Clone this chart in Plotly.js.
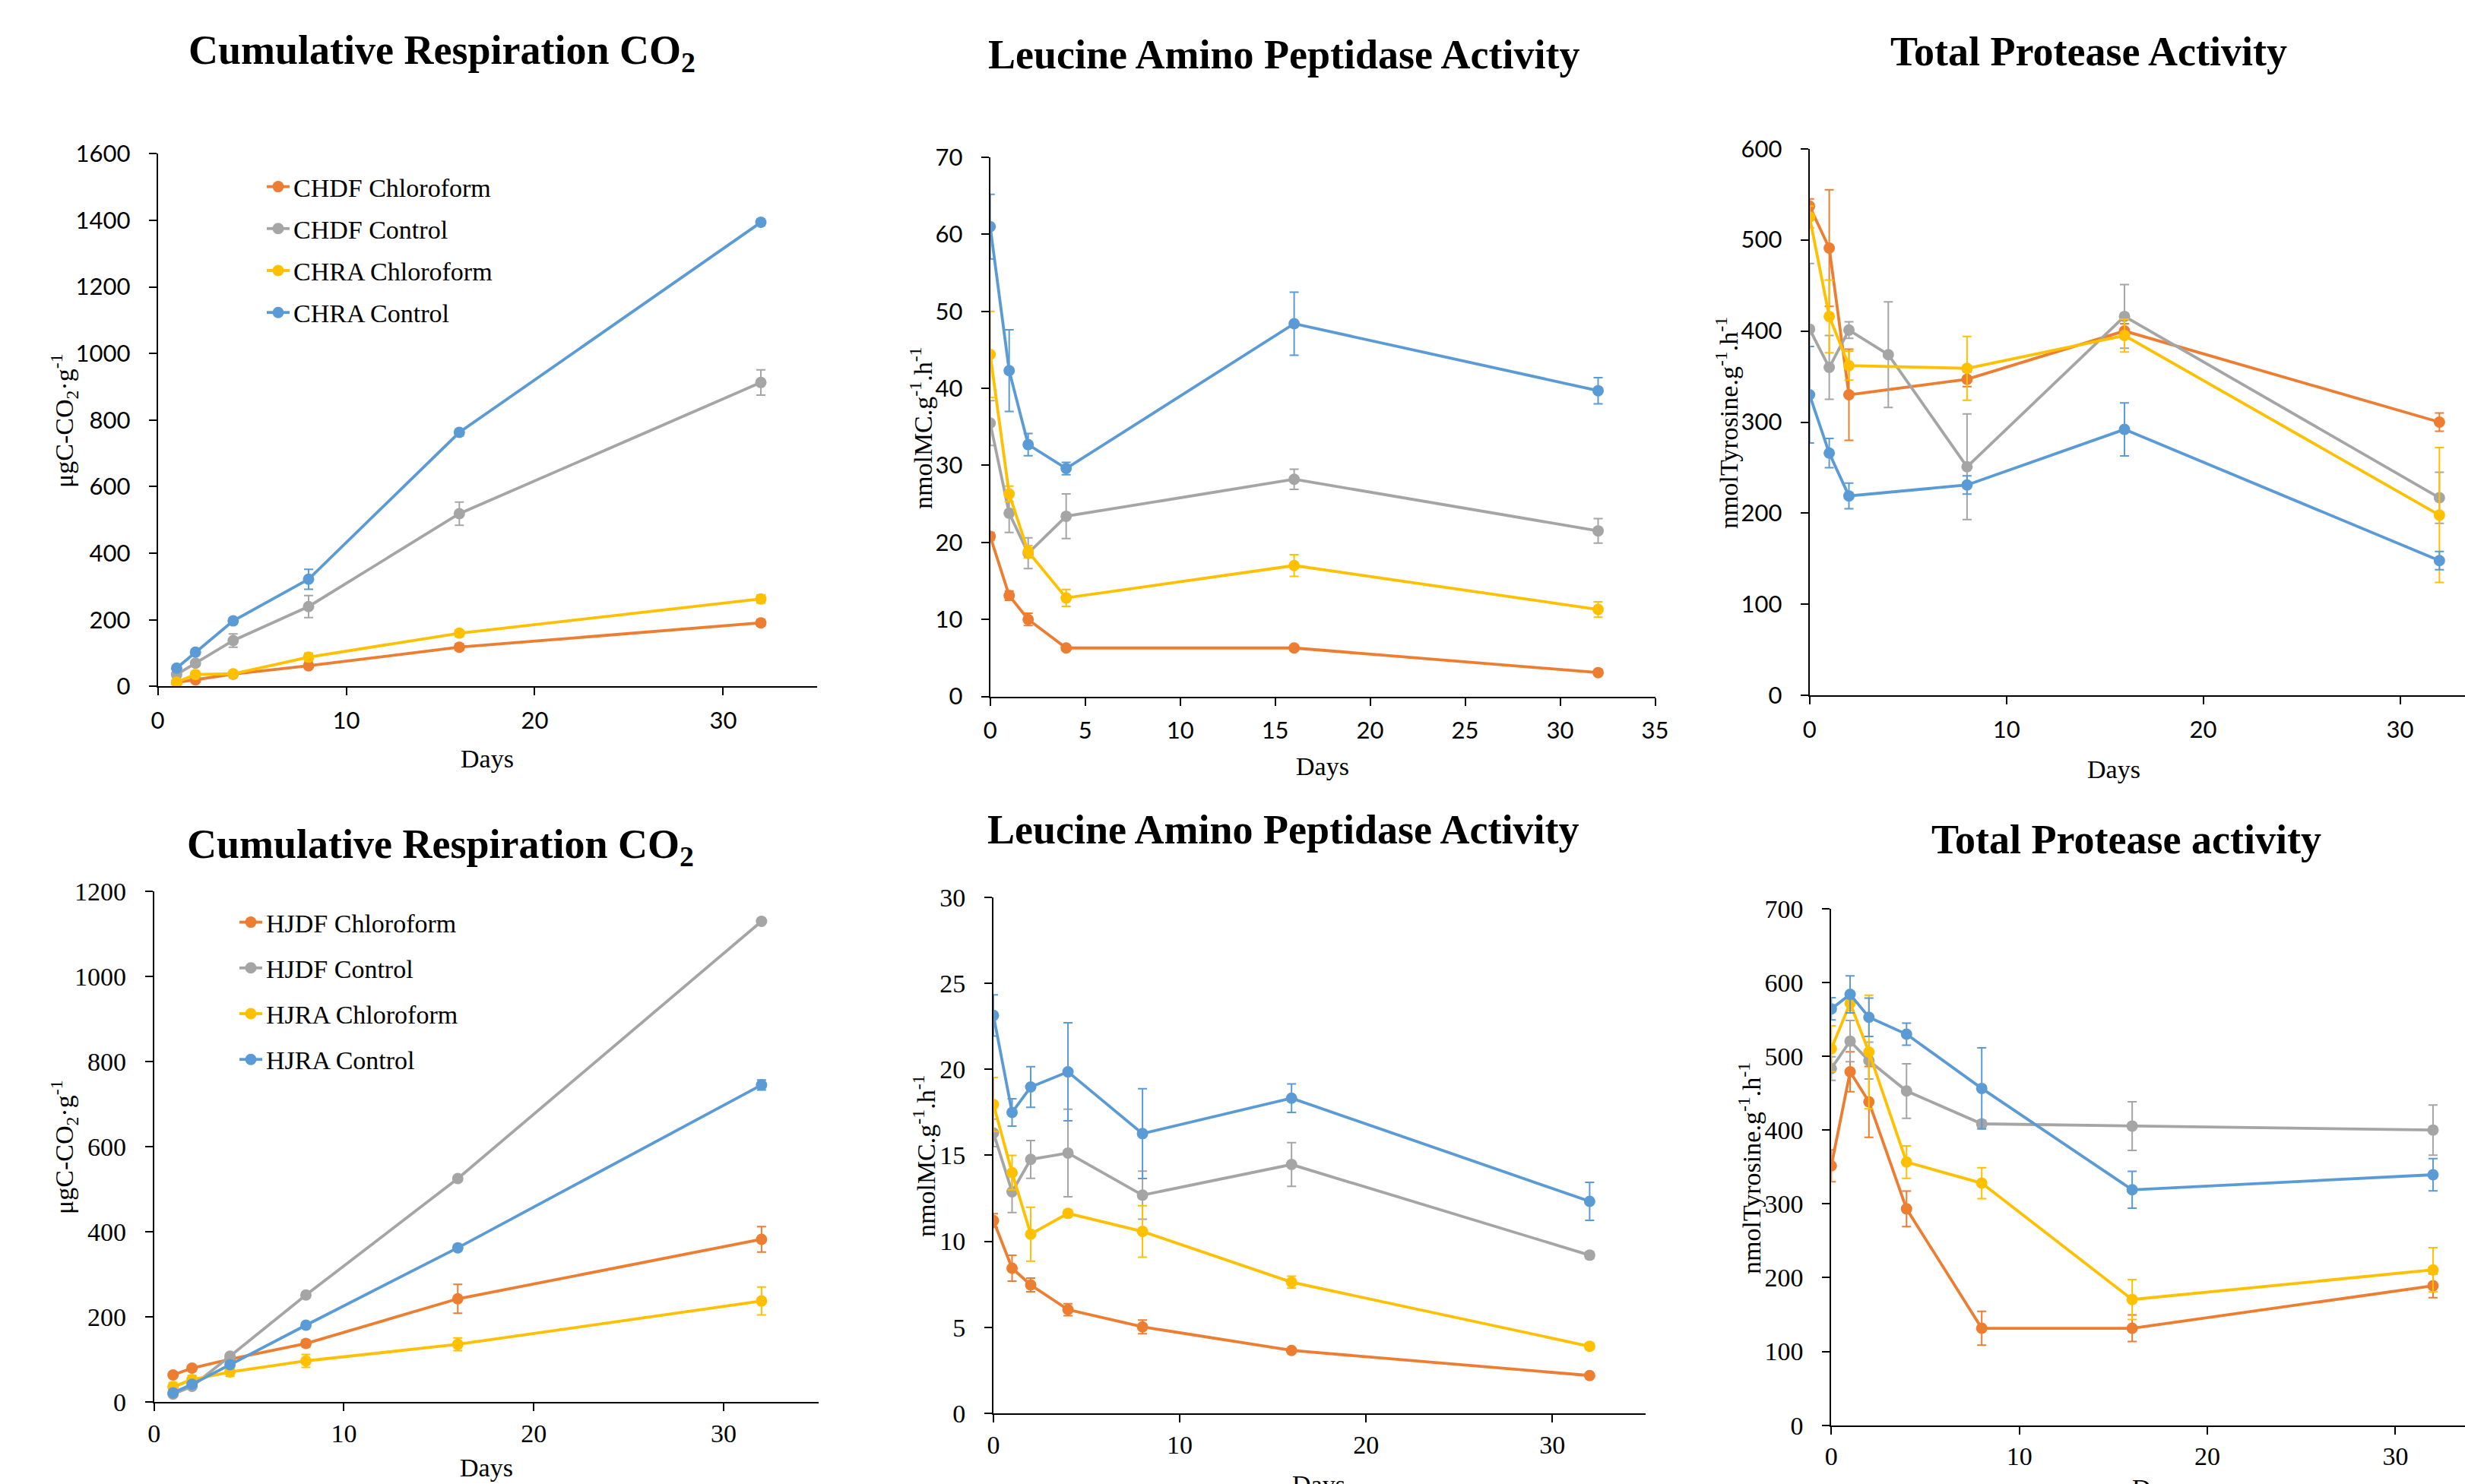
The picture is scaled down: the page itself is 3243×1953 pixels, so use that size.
<!DOCTYPE html>
<html><head><meta charset="utf-8">
<script src="https://cdn.plot.ly/plotly-3.0.1.min.js"></script>
<style>html,body{margin:0;padding:0;background:#fff;overflow:hidden}</style>
</head><body>
<div id="chart" style="width:3243px;height:1953px"></div>
<script>
// ---------- DATA ----------
// Top-left: Cumulative Respiration CO2 (CHDF / CHRA)
const daysRespC = [1, 2, 4, 8, 16, 32];
const respChdfChloroform = [12, 20, 37, 62, 118, 191];
const respChdfChloroformErr = [5, 6, 6, 8, 10, 10];
const respChdfControl = [36, 70, 138, 240, 519, 913];
const respChdfControlErr = [6, 8, 20, 33, 35, 38];
const respChraChloroform = [13, 36, 38, 88, 160, 263];
const respChraChloroformErr = [5, 6, 6, 12, 10, 12];
const respChraControl = [55, 103, 197, 322, 763, 1394];
const respChraControlErr = [6, 8, 8, 30, 10, 10];

// Top-middle: Leucine Amino Peptidase Activity (CH)
const daysLapC = [0, 1, 2, 4, 16, 32];
const lapChdfChloroform = [20.8, 13.1, 10.0, 6.3, 6.3, 3.1];
const lapChdfChloroformErr = [0.5, 0.6, 0.8, 0.3, 0.3, 0.3];
const lapChdfControl = [35.5, 23.8, 18.6, 23.4, 28.2, 21.5];
const lapChdfControlErr = [2.9, 2.5, 2.0, 2.9, 1.3, 1.6];
const lapChraChloroform = [44.4, 26.3, 18.8, 12.8, 17.0, 11.3];
const lapChraChloroformErr = [5.6, 1.0, 0.8, 1.1, 1.4, 1.0];
const lapChraControl = [61.0, 42.3, 32.7, 29.6, 48.4, 39.7];
const lapChraControlErr = [4.2, 5.3, 1.45, 0.8, 4.1, 1.7];

// Top-right: Total Protease Activity (CH)
const daysProtC = [0, 1, 2, 8, 16, 32];
const daysProtCGray = [0, 1, 2, 4, 8, 16, 32];
const protChdfChloroform = [537, 491, 330, 347, 400, 300];
const protChdfChloroformErr = [8, 64, 50, 8, 8, 10];
const protChdfControl = [402, 360, 401, 374, 251, 416, 217];
const protChdfControlErr = [72, 35, 9, 58, 58, 35, 28];
const protChraChloroform = [525, 416, 362, 359, 395, 198];
const protChraChloroformErr = [12, 40, 16, 35, 18, 74];
const protChraControl = [330, 266, 219, 231, 292, 148];
const protChraControlErr = [53, 16, 14, 10, 29, 10];

// Bottom-left: Cumulative Respiration CO2 (HJDF / HJRA)
const daysRespH = [1, 2, 4, 8, 16, 32];
const respHjdfChloroform = [63, 79, 100, 137, 242, 382];
const respHjdfChloroformErr = [6, 6, 6, 8, 34, 30];
const respHjdfControl = [18, 36, 107, 251, 525, 1130];
const respHjdfControlErr = [4, 5, 6, 6, 6, 6];
const respHjraChloroform = [35, 52, 70, 96, 135, 237];
const respHjraChloroformErr = [10, 10, 10, 15, 15, 33];
const respHjraControl = [21, 41, 87, 180, 362, 745];
const respHjraControlErr = [5, 5, 5, 6, 6, 12];

// Bottom-middle: Leucine Amino Peptidase Activity (HJ)
const daysLapH = [0, 1, 2, 4, 8, 16, 32];
const lapHjdfChloroform = [11.2, 8.43, 7.46, 6.02, 5.02, 3.65, 2.19];
const lapHjdfChloroformErr = [0.4, 0.75, 0.4, 0.35, 0.4, 0.1, 0.1];
const lapHjdfControl = [16.3, 12.87, 14.76, 15.13, 12.68, 14.46, 9.19];
const lapHjdfControlErr = [0.8, 1.2, 1.1, 2.55, 1.4, 1.27, 0.2];
const lapHjraChloroform = [17.95, 13.99, 10.41, 11.62, 10.57, 7.62, 3.89];
const lapHjraChloroformErr = [1.57, 1.0, 1.57, 0.2, 1.5, 0.35, 0.2];
const lapHjraControl = [23.13, 17.49, 18.97, 19.85, 16.26, 18.32, 12.32];
const lapHjraControlErr = [1.2, 0.8, 1.18, 2.85, 2.61, 0.83, 1.1];

// Bottom-right: Total Protease activity (HJ)
const daysProtH = [0, 1, 2, 4, 8, 16, 32];
const protHjdfChloroform = [351.6, 479, 438.3, 293.3, 131.4, 131.4, 189];
const protHjdfChloroformErr = [21.6, 27, 48, 24, 23, 18, 16];
const protHjdfControl = [483.5, 520.6, 494.2, 453, 408.5, 405.5, 400.1];
const protHjdfControlErr = [16, 28, 25, 37, 5, 33, 34];
const protHjraChloroform = [510.3, 572, 505.8, 356.7, 328.1, 170.4, 210.5];
const protHjraChloroformErr = [31, 10, 77, 22, 21, 27, 30];
const protHjraControl = [564.4, 584, 553, 530, 456.5, 319.1, 339.5];
const protHjraControlErr = [15, 25, 26, 15, 55, 25, 22];

const namesC = ['CHDF Chloroform', 'CHDF Control', 'CHRA Chloroform', 'CHRA Control'];
const namesH = ['HJDF Chloroform', 'HJDF Control', 'HJRA Chloroform', 'HJRA Control'];
const titles = ['Cumulative Respiration CO<sub>2</sub>', 'Leucine Amino Peptidase Activity', 'Total Protease Activity',
                'Cumulative Respiration CO<sub>2</sub>', 'Leucine Amino Peptidase Activity', 'Total Protease activity'];
const yTitles = ['μgC-CO<sub>2</sub>·g<sup>-1</sup>', 'nmolMC.g<sup>-1</sup>.h<sup>-1</sup>', 'nmolTyrosine.g<sup>-1</sup>.h<sup>-1</sup>',
                 'μgC-CO<sub>2</sub>·g<sup>-1</sup>', 'nmolMC.g<sup>-1</sup>.h<sup>-1</sup>', 'nmolTyrosine.g<sup>-1</sup>.h<sup>-1</sup>'];
const xTitle = 'Days';

// ---------- STYLE / LAYOUT ----------
const W = 3243, H = 1953;
const COLORS = ['#ED7D31', '#A5A5A5', '#FFC000', '#5B9BD5'];
const SERIF = '"Liberation Serif", "Times New Roman", serif';
const SANS = 'Lato, "Open Sans", sans-serif';

function tr(x, y, err, ci, k, name, legend) {
  const t = {
    type: 'scatter', mode: 'lines+markers', x: x, y: y,
    xaxis: k === 1 ? 'x' : 'x' + k, yaxis: k === 1 ? 'y' : 'y' + k,
    line: {color: COLORS[ci], width: 3.8},
    marker: {color: COLORS[ci], size: 15},
    error_y: {type: 'data', array: err, visible: true, color: COLORS[ci], thickness: 2, width: 6},
    name: name || '', showlegend: !!legend, hoverinfo: 'x+y'
  };
  if (legend) { t.legend = legend; t.legendgroup = legend + name; }
  return t;
}

const data = [
  tr(daysRespC, respChdfChloroform, respChdfChloroformErr, 0, 1, namesC[0], 'legend'),
  tr(daysRespC, respChdfControl, respChdfControlErr, 1, 1, namesC[1], 'legend'),
  tr(daysRespC, respChraChloroform, respChraChloroformErr, 2, 1, namesC[2], 'legend'),
  tr(daysRespC, respChraControl, respChraControlErr, 3, 1, namesC[3], 'legend'),

  tr(daysLapC, lapChdfChloroform, lapChdfChloroformErr, 0, 2),
  tr(daysLapC, lapChdfControl, lapChdfControlErr, 1, 2),
  tr(daysLapC, lapChraChloroform, lapChraChloroformErr, 2, 2),
  tr(daysLapC, lapChraControl, lapChraControlErr, 3, 2),

  tr(daysProtC, protChdfChloroform, protChdfChloroformErr, 0, 3),
  tr(daysProtCGray, protChdfControl, protChdfControlErr, 1, 3),
  tr(daysProtC, protChraChloroform, protChraChloroformErr, 2, 3),
  tr(daysProtC, protChraControl, protChraControlErr, 3, 3),

  tr(daysRespH, respHjdfChloroform, respHjdfChloroformErr, 0, 4, namesH[0], 'legend2'),
  tr(daysRespH, respHjdfControl, respHjdfControlErr, 1, 4, namesH[1], 'legend2'),
  tr(daysRespH, respHjraChloroform, respHjraChloroformErr, 2, 4, namesH[2], 'legend2'),
  tr(daysRespH, respHjraControl, respHjraControlErr, 3, 4, namesH[3], 'legend2'),

  tr(daysLapH, lapHjdfChloroform, lapHjdfChloroformErr, 0, 5),
  tr(daysLapH, lapHjdfControl, lapHjdfControlErr, 1, 5),
  tr(daysLapH, lapHjraChloroform, lapHjraChloroformErr, 2, 5),
  tr(daysLapH, lapHjraControl, lapHjraControlErr, 3, 5),

  tr(daysProtH, protHjdfChloroform, protHjdfChloroformErr, 0, 6),
  tr(daysProtH, protHjdfControl, protHjdfControlErr, 1, 6),
  tr(daysProtH, protHjraChloroform, protHjraChloroformErr, 2, 6),
  tr(daysProtH, protHjraControl, protHjraControlErr, 3, 6)
];

// panel geometry in pixels: [left, right, top, bottom], axis ranges, dticks, tick font
const panels = [
  {px: [207.6, 1075.4, 202.3, 903.4], xr: [0, 35], yr: [0, 1600], xd: 10, yd: 200, f: SANS, fs: 31,
   title: [581, 69], ytitle: [84, 554], xtitle: [641, 998]},
  {px: [1302.7, 2177.5, 207, 916.6], xr: [0, 35], yr: [0, 70], xd: 5, yd: 10, f: SANS, fs: 31,
   title: [1689, 72], ytitle: [1212, 564], xtitle: [1740, 1009]},
  {px: [2380.7, 3243, 195.7, 915.3], xr: [0, 33.3], yr: [0, 600], xd: 10, yd: 100, f: SANS, fs: 31,
   title: [2748, 68], ytitle: [2272, 557], xtitle: [2781, 1013]},
  {px: [202.7, 1076.8, 1173.3, 1844.7], xr: [0, 35], yr: [0, 1200], xd: 10, yd: 200, f: SERIF, fs: 34,
   title: [579.5, 1114], ytitle: [84, 1510], xtitle: [640, 1931]},
  {px: [1307, 2164.9, 1180.9, 1859.8], xr: [0, 35], yr: [0, 30], xd: 10, yd: 5, f: SERIF, fs: 34,
   title: [1688, 1092], ytitle: [1216, 1522], xtitle: [1735, 1953]},
  {px: [2409.3, 3243, 1196, 1875.6], xr: [0, 33.7], yr: [0, 700], xd: 10, yd: 100, f: SERIF, fs: 34,
   title: [2797, 1105], ytitle: [2302, 1538], xtitle: [2840, 1958]}
];

const layout = {
  width: W, height: H, margin: {l: 0, r: 0, t: 0, b: 0, pad: 0},
  paper_bgcolor: '#ffffff', plot_bgcolor: 'rgba(0,0,0,0)',
  font: {family: SERIF, color: '#000000'},
  annotations: [],
  legend: {x: 346 / W, y: 1 - 217 / H, xanchor: 'left', yanchor: 'top', bgcolor: 'rgba(0,0,0,0)',
           borderwidth: 0, font: {family: SERIF, size: 34, color: '#000'}, tracegroupgap: 8, itemclick: false},
  legend2: {x: 310 / W, y: 1 - 1185 / H, xanchor: 'left', yanchor: 'top', bgcolor: 'rgba(0,0,0,0)',
           borderwidth: 0, font: {family: SERIF, size: 34, color: '#000'}, tracegroupgap: 13, itemclick: false}
};

panels.forEach((p, i) => {
  const k = i + 1;
  const xk = k === 1 ? 'xaxis' : 'xaxis' + k;
  const yk = k === 1 ? 'yaxis' : 'yaxis' + k;
  const common = {showgrid: false, zeroline: false, showline: true, linecolor: '#000', linewidth: 2,
                  ticks: 'outside', ticklen: 10, tickwidth: 2, tickcolor: '#000',
                  tickfont: {family: p.f, size: p.fs, color: '#000'}, fixedrange: true};
  layout[xk] = Object.assign({}, common, {
    domain: [p.px[0] / W, p.px[1] / W], range: p.xr, tick0: 0, dtick: p.xd,
    anchor: k === 1 ? 'y' : 'y' + k, ticklabelstandoff: i < 3 ? 6 : 0
  });
  layout[yk] = Object.assign({}, common, {
    domain: [1 - p.px[3] / H, 1 - p.px[2] / H], range: p.yr, tick0: 0, dtick: p.yd,
    anchor: k === 1 ? 'x' : 'x' + k, ticklabelstandoff: 18
  });
  layout.annotations.push({text: '<b>' + titles[i] + '</b>', xref: 'paper', yref: 'paper',
    x: p.title[0] / W, y: 1 - p.title[1] / H, xanchor: 'center', yanchor: 'middle', showarrow: false,
    font: {family: SERIF, size: 54, color: '#000'}});
  layout.annotations.push({text: yTitles[i], xref: 'paper', yref: 'paper', textangle: -90,
    x: p.ytitle[0] / W, y: 1 - p.ytitle[1] / H, xanchor: 'center', yanchor: 'middle', showarrow: false,
    font: {family: SERIF, size: 34, color: '#000'}});
  layout.annotations.push({text: xTitle, xref: 'paper', yref: 'paper',
    x: p.xtitle[0] / W, y: 1 - p.xtitle[1] / H, xanchor: 'center', yanchor: 'middle', showarrow: false,
    font: {family: SERIF, size: 34, color: '#000'}});
});

Plotly.newPlot('chart', data, layout, {staticPlot: true, displayModeBar: false});
</script>
</body></html>
